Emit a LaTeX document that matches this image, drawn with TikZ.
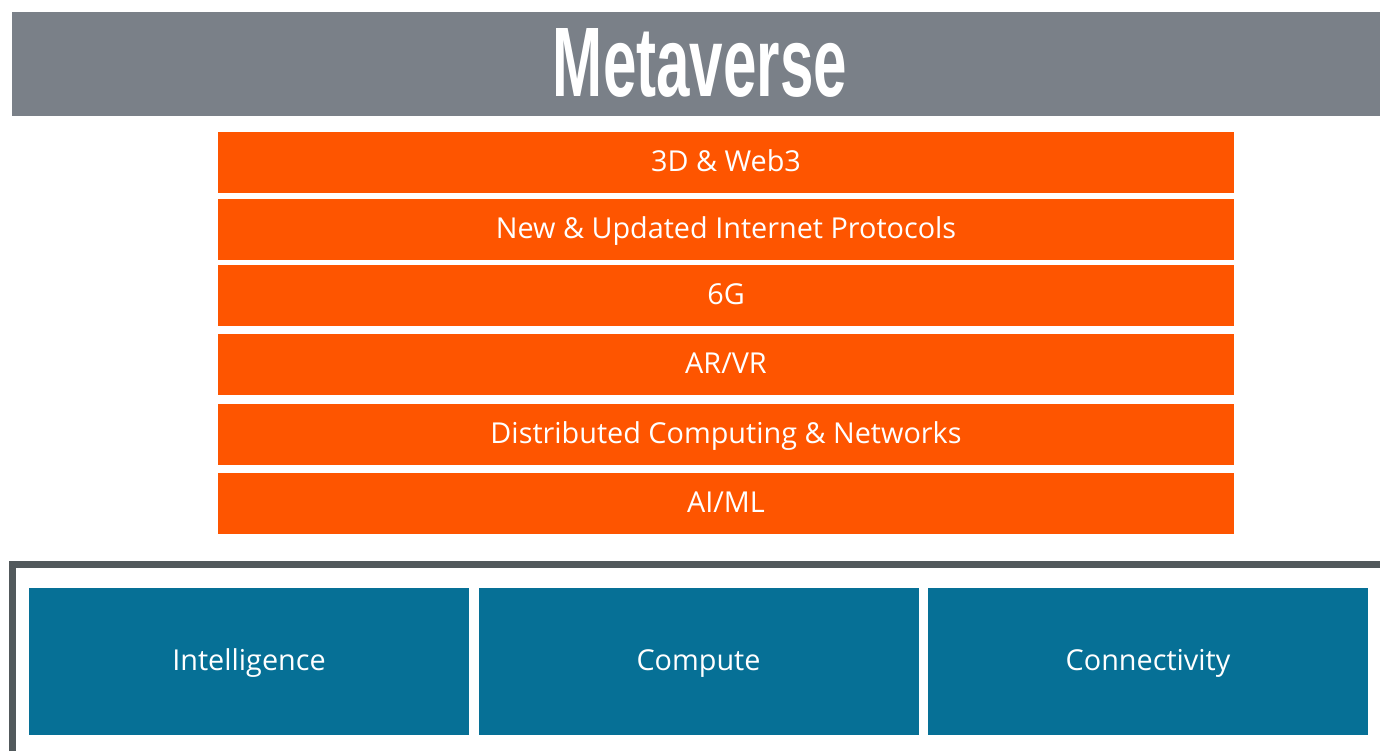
\documentclass[tikz,border=0pt]{standalone}
\usepackage{fontspec}
\setmainfont{Open Sans}
\newfontfamily\titlefont{Liberation Sans}
\usepackage{graphicx}
\usepackage{tikz}
\usetikzlibrary{positioning}
\definecolor{Banner}{HTML}{7A8088}
\definecolor{Layer}{HTML}{FE5500}
\definecolor{Pillar}{HTML}{067096}
\definecolor{Frame}{HTML}{52595C}
\begin{document}
\begin{tikzpicture}[x=0.5pt,y=-0.5pt,
  layer/.style={fill=Layer,text=white,minimum width=508pt,minimum height=30.5pt,inner sep=0pt,text height=10.3pt,text depth=1.5pt,font=\fontsize{14.4}{17}\selectfont},
  pillar/.style={fill=Pillar,text=white,minimum width=220pt,minimum height=73.5pt,inner sep=0pt,text height=10.3pt,text depth=1.5pt,font=\fontsize{14.4}{17}\selectfont}]
  \useasboundingbox (0,0) rectangle (1380,751);
  \node[fill=Banner,minimum width=684pt,minimum height=52pt,inner sep=0pt] (banner) at (696,64) {};
  \node[text=white,inner sep=0pt] (title) at (700,63) {\resizebox{147pt}{34pt}{\titlefont\bfseries Metaverse}};
  % stack of layers
  \node[layer] (web3) at (726,162.3) {3D \& Web3};
  \node[layer] (proto) at (726,229.3) {New \& Updated Internet Protocols};
  \node[layer] (sixg) at (726,295.5) {6G};
  \node[layer] (arvr) at (726,364.5) {AR/VR};
  \node[layer] (dist) at (726,434.5) {Distributed Computing \& Networks};
  \node[layer] (aiml) at (726,503.5) {AI/ML};
  % foundation
  \draw[Frame,line width=3.5pt] (12.5,751) -- (12.5,564) -- (1380,564);
  \node[pillar] (intel) at (249,661.5) {Intelligence};
  \node[pillar] (compute) at (698.5,661.5) {Compute};
  \node[pillar] (conn) at (1148,661.5) {Connectivity};
\end{tikzpicture}
\end{document}
